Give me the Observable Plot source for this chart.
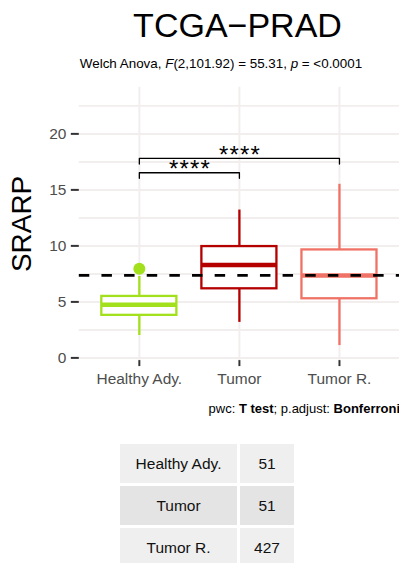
<!DOCTYPE html>
<html><head><meta charset="utf-8">
<script src="https://cdn.jsdelivr.net/npm/d3@7"></script>
<script src="https://cdn.jsdelivr.net/npm/@observablehq/plot@0.6"></script>
<style>
html,body{margin:0;padding:0;background:#fff;overflow:hidden;}
body{width:399px;height:563px;position:relative;font-family:"Liberation Sans",Arial,sans-serif;}
.abs{position:absolute;white-space:nowrap;}
#title{left:0;width:475px;text-align:center;top:8px;font-size:34px;line-height:34px;color:#000;}
#subtitle{left:0;width:442px;text-align:center;top:57px;font-size:13.4px;line-height:13px;color:#000;}
#caption{right:-1px;top:402px;font-size:13px;line-height:13px;color:#000;text-align:right;}
#chart{position:absolute;left:0;top:0;}
.cell{position:absolute;display:flex;align-items:center;justify-content:center;font-size:15.5px;color:#111;}
</style>
</head><body>
<div id="chart"></div>
<div id="title" class="abs">TCGA−PRAD</div>
<div id="subtitle" class="abs">Welch Anova, <i>F</i>(2,101.92) = 55.31, <i>p</i> = &lt;0.0001</div>
<div id="caption" class="abs">pwc: <b>T test</b>; p.adjust: <b>Bonferroni</b></div>
<div id="table"></div>
<script>
// ---- data ----
const categories = ["Healthy Ady.", "Tumor", "Tumor R."];
const colors = ["#a3e01c", "#b50000", "#f07266"];
const q1 = [3.80, 6.17, 5.28];
const median = [4.75, 8.30, 7.36];
const q3 = [5.49, 9.94, 9.64];
const whiskerLow = [2.0, 3.17, 1.1];
const whiskerHigh = [7.27, 13.2, 15.5];
const outlierGroup = ["Healthy Ady."];
const outlierValue = [7.95];
const refLine = [7.36];
const counts = [51, 51, 427];
const yTicks = [0, 5, 10, 15, 20];
const cmpGroup1 = ["Healthy Ady.", "Healthy Ady."];
const cmpGroup2 = ["Tumor", "Tumor R."];
const cmpY = [16.53, 17.81];
const cmpLabel = ["****", "****"];

// ---- derived tables ----
const pos = c => categories.indexOf(c) + 1;
const boxes = categories.map((c, i) => ({i: i + 1, cat: c, q1: q1[i], med: median[i], q3: q3[i], lo: whiskerLow[i], hi: whiskerHigh[i], color: colors[i]}));
const outliers = outlierGroup.map((g, k) => ({i: pos(g), v: outlierValue[k], color: colors[pos(g) - 1]}));
const halfW = 0.375;
const tipLen = 0.5;
const brackets = [];
cmpGroup1.forEach((g, k) => {
  const a = pos(g), b = pos(cmpGroup2[k]), yb = cmpY[k];
  brackets.push({k, x: a, y: yb - tipLen}, {k, x: a, y: yb}, {k, x: b, y: yb}, {k, x: b, y: yb - tipLen});
});
const cmps = cmpGroup1.map((g, k) => ({x: (pos(g) + pos(cmpGroup2[k])) / 2, y: cmpY[k], label: cmpLabel[k]}));
const majorGrid = yTicks;
const minorGrid = d3.range(2.5, 25, 5);
const gridCol = "#f3eeee";

const plot = Plot.plot({
  width: 400, height: 400,
  marginTop: 87, marginBottom: 39, marginLeft: 79, marginRight: 0,
  x: {domain: [0.4, 3.6], axis: null},
  y: {domain: [-0.24, 24.16], axis: null},
  style: {fontFamily: "Liberation Sans, Arial, sans-serif", background: "transparent", overflow: "visible"},
  marks: [
    Plot.ruleY(minorGrid, {stroke: gridCol, strokeWidth: 2}),
    Plot.ruleY(majorGrid, {stroke: gridCol, strokeWidth: 2}),
    Plot.ruleX(boxes, {x: "i", stroke: gridCol, strokeWidth: 2}),
    Plot.axisY(yTicks, {tickSize: 8, tickPadding: 5, fontSize: 15.5, fill: "#4d4d4d", stroke: "#333", strokeWidth: 2, label: null}),
    Plot.axisX(boxes.map(d => d.i), {tickFormat: d => categories[d - 1], tickSize: 6, tickPadding: 6, fontSize: 15.5, fill: "#4d4d4d", stroke: "#333", strokeWidth: 2, label: null}),
    Plot.text(["SRARP"], {frameAnchor: "left", textAnchor: "middle", rotate: -90, dx: -57, fontSize: 28, fill: "#000"}),
    Plot.ruleX(boxes, {x: "i", y1: "lo", y2: "q1", stroke: "color", strokeWidth: 2.3}),
    Plot.ruleX(boxes, {x: "i", y1: "q3", y2: "hi", stroke: "color", strokeWidth: 2.3}),
    Plot.rect(boxes, {x1: d => d.i - halfW, x2: d => d.i + halfW, y1: "q1", y2: "q3", fill: "white", stroke: "color", strokeWidth: 2.3}),
    Plot.ruleY(boxes, {x1: d => d.i - halfW, x2: d => d.i + halfW, y: "med", stroke: "color", strokeWidth: 4.6}),
    Plot.dot(outliers, {x: "i", y: "v", r: 6, fill: "color", stroke: null}),
    Plot.ruleY(refLine, {stroke: "black", strokeWidth: 2.7, strokeDasharray: "10.5,12.2"}),
    Plot.line(brackets, {x: "x", y: "y", z: "k", stroke: "black", strokeWidth: 1.3}),
    Plot.text(cmps, {x: "x", y: "y", text: "label", fontSize: 24, dy: -3, lineAnchor: "middle", fill: "#000"})
  ]
});
d3.select(plot).selectAll("text").filter(function() { return this.textContent === "****"; })
  .attr("letter-spacing", 1.2).attr("dx", 0.6);
document.getElementById("chart").appendChild(plot);

// ---- table ----
const table = document.getElementById("table");
const rowTop = [444, 486, 528];
const rowBg = ["#efefef", "#e4e4e4", "#efefef"];
categories.forEach((c, r) => {
  [[120, 117, c], [240, 54, counts[r]]].forEach(([left, w, txt]) => {
    const d = document.createElement("div");
    d.className = "cell";
    d.style.left = left + "px"; d.style.width = w + "px";
    d.style.top = rowTop[r] + "px"; d.style.height = "39px";
    d.style.background = rowBg[r];
    d.textContent = txt;
    table.appendChild(d);
  });
});
</script>
</body></html>
